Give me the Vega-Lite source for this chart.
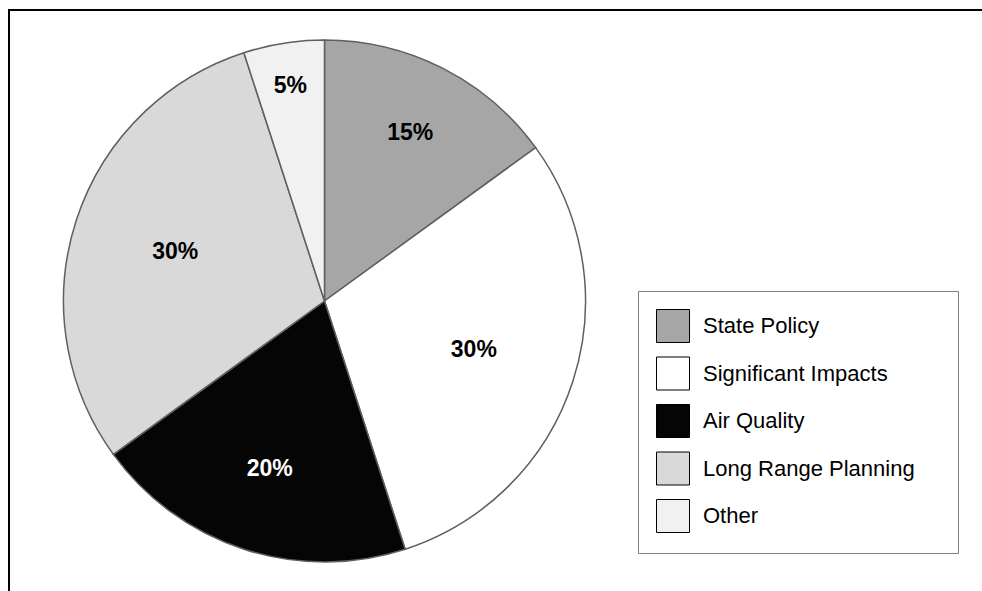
{
  "$schema": "https://vega.github.io/schema/vega-lite/v6.json",
  "width": 1000,
  "height": 600,
  "autosize": {"type": "none"},
  "padding": {"left": 9, "top": 10, "right": 0, "bottom": 0},
  "background": "white",
  "view": {"stroke": "#000000", "strokeWidth": 2},
  "config": {"view": {"stroke": "#000000", "strokeWidth": 2}, "font": "Liberation Sans"},
  "data": {"values": [
    {"category": "State Policy", "share": 15, "label": "15%", "order": 1},
    {"category": "Significant Impacts", "share": 30, "label": "30%", "order": 2},
    {"category": "Air Quality", "share": 20, "label": "20%", "order": 3},
    {"category": "Long Range Planning", "share": 30, "label": "30%", "order": 4},
    {"category": "Other", "share": 5, "label": "5%", "order": 5}
  ]},
  "encoding": {
    "theta": {"field": "share", "type": "quantitative", "stack": true},
    "order": {"field": "order", "type": "quantitative", "sort": "ascending"}
  },
  "layer": [
    {
      "mark": {"type": "arc", "outerRadius": 261, "x": 315.5, "y": 291, "stroke": "#5f5f5f", "strokeWidth": 1.5},
      "encoding": {
        "color": {
          "field": "category",
          "type": "nominal",
          "scale": {
            "domain": ["State Policy", "Significant Impacts", "Air Quality", "Long Range Planning", "Other"],
            "range": ["#a6a6a6", "#ffffff", "#050505", "#d9d9d9", "#f1f1f1"]
          },
          "legend": {
            "orient": "none",
            "legendX": 629,
            "legendY": 281,
            "title": ".",
            "titleOrient": "right",
            "titleColor": "#ffffff",
            "titleFontSize": 8,
            "titlePadding": 22,
            "symbolType": "square",
            "symbolSize": 1089,
            "symbolStrokeColor": "#000000",
            "symbolStrokeWidth": 1,
            "symbolOpacity": 1,
            "labelFont": "Liberation Sans",
            "labelFontSize": 22,
            "labelColor": "#000000",
            "labelLimit": 400,
            "labelOffset": 13,
            "rowPadding": 9.5,
            "padding": 18,
            "strokeColor": "#808080",
            "fillColor": "#ffffff"
          }
        }
      }
    },
    {
      "mark": {"type": "text", "radius": 218, "x": 315.5, "y": 291, "fontSize": 23, "fontWeight": "bold", "font": "Liberation Sans", "fill": "#000000"},
      "encoding": {"text": {"condition": {"test": "datum.category === 'Other'", "field": "label", "type": "nominal"}, "value": ""}}
    },
    {
      "mark": {"type": "text", "radius": 189, "x": 315.5, "y": 291, "fontSize": 23, "fontWeight": "bold", "font": "Liberation Sans", "fill": "#000000"},
      "encoding": {"text": {"condition": {"test": "datum.category === 'State Policy'", "field": "label", "type": "nominal"}, "value": ""}}
    },
    {
      "mark": {"type": "text", "radius": 177, "x": 315.5, "y": 291, "fontSize": 23, "fontWeight": "bold", "font": "Liberation Sans", "fill": "#ffffff"},
      "encoding": {"text": {"condition": {"test": "datum.category === 'Air Quality'", "field": "label", "type": "nominal"}, "value": ""}}
    },
    {
      "mark": {"type": "text", "radius": 157, "x": 315.5, "y": 291, "fontSize": 23, "fontWeight": "bold", "font": "Liberation Sans", "fill": "#000000"},
      "encoding": {"text": {"condition": {"test": "datum.category === 'Significant Impacts' || datum.category === 'Long Range Planning'", "field": "label", "type": "nominal"}, "value": ""}}
    }
  ]
}
